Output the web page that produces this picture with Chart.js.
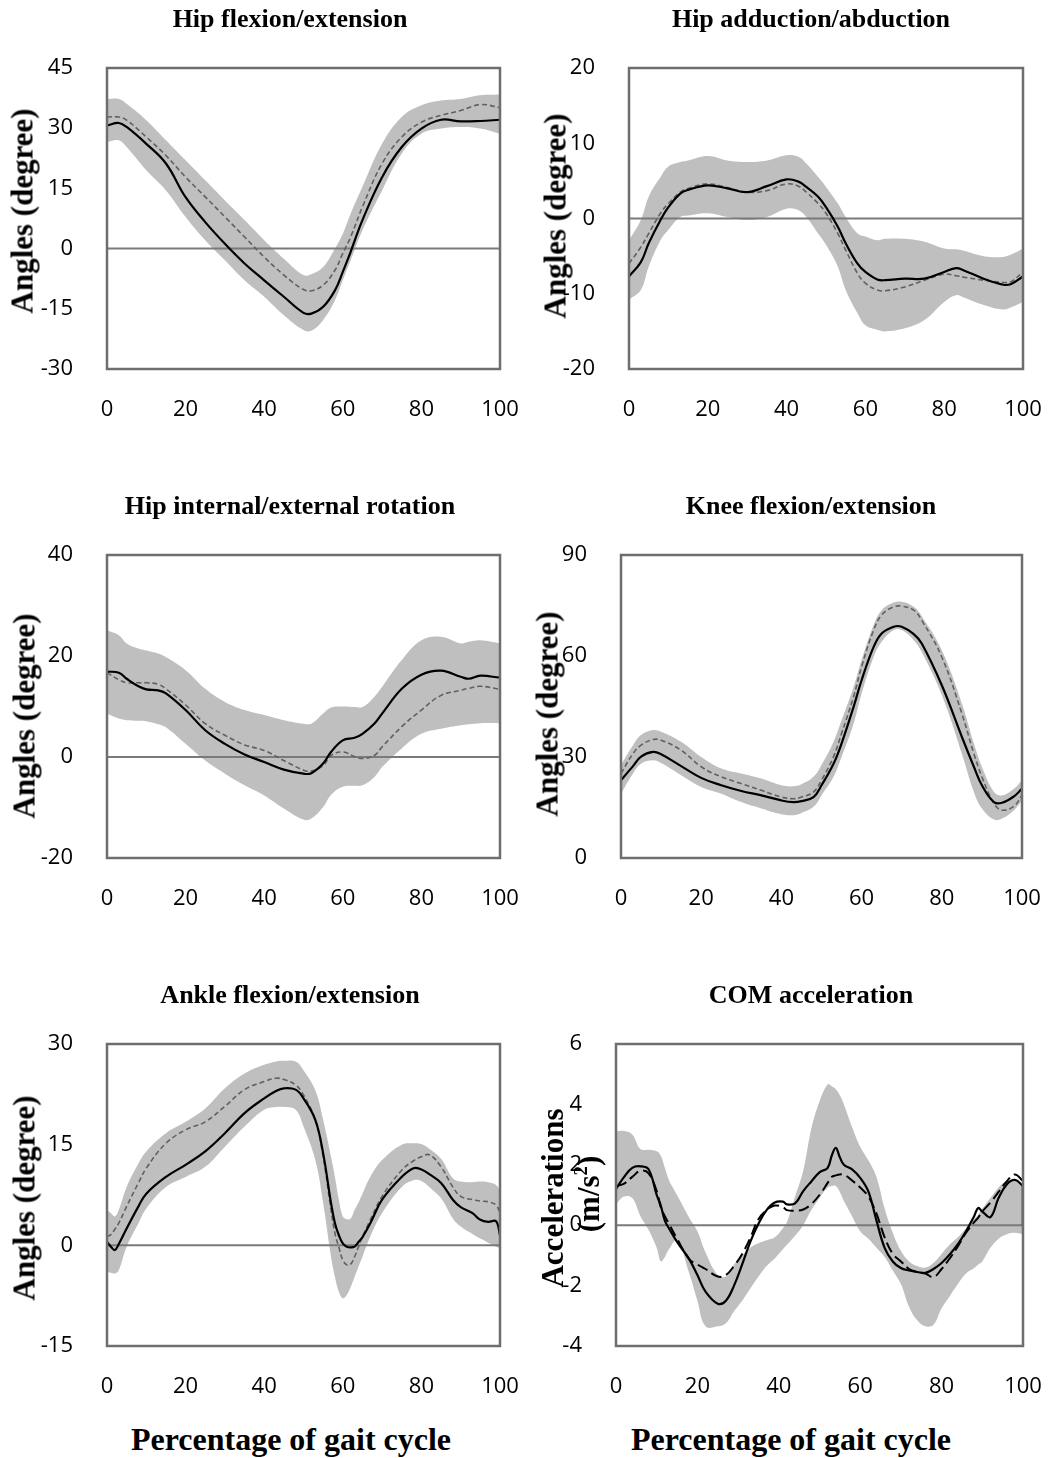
<!DOCTYPE html>
<html>
<head>
<meta charset="utf-8">
<script src="https://cdn.jsdelivr.net/npm/chart.js@4.4.1/dist/chart.umd.min.js"></script>
<style>
  body { margin: 0; background: #fff; width: 1052px; height: 1458px; position: relative; overflow: hidden; }
  canvas { position: absolute; }
  .t { position: absolute; font-family: "Liberation Serif", "Times New Roman", serif; font-weight: bold; white-space: nowrap; line-height: 1; color: #000; }
  .t sup { font-size: 0.6em; line-height: 0; }
</style>
</head>
<body>
<script>
// x axis is shared by every panel
const xTicks = [0, 20, 40, 60, 80, 100];

// Hip flexion/extension
const hipFlexTicks = [-30, -15, 0, 15, 30, 45];
const hipFlexPct  = [0, 3, 5, 10, 15, 20, 25, 30, 35, 40, 45, 50, 52, 55, 58, 60, 62, 65, 70, 75, 80, 85, 90, 95, 100];
const hipFlexMean = [30.7, 31.3, 30.3, 26.1, 21.2, 12.8, 6.6, 1.2, -3.7, -7.9, -12.0, -16.0, -16.2, -14.5, -10.4, -5.8, -0.8, 7.1, 17.8, 25.3, 29.9, 32.1, 31.7, 31.8, 32.1];
const hipFlexComp = [32.8, 32.8, 32.0, 27.8, 23.2, 17.8, 12.9, 7.9, 2.9, -2.1, -6.6, -10.2, -10.5, -9.1, -5.4, -1.2, 2.9, 10.4, 21.2, 27.8, 31.5, 33.2, 34.4, 35.9, 35.1];
const hipFlexHi   = [37.2, 37.3, 36.1, 32.0, 27.0, 22.0, 17.0, 12.0, 7.1, 2.1, -2.5, -6.6, -6.4, -4.6, 0.0, 3.7, 8.7, 15.4, 26.1, 32.8, 35.7, 36.9, 37.3, 38.2, 38.4];
const hipFlexLo   = [26.6, 27.0, 25.3, 19.5, 14.5, 7.9, 2.1, -2.9, -7.9, -12.0, -16.6, -20.3, -20.5, -17.8, -12.9, -7.9, -2.9, 4.6, 14.5, 23.7, 28.6, 29.9, 30.3, 29.9, 28.6];

// Hip adduction/abduction
const hipAddTicks = [-20, -10, 0, 10, 20];
const hipAddPct  = [0, 3, 5, 8, 10, 13, 15, 20, 25, 30, 35, 40, 43, 45, 48, 50, 53, 55, 58, 60, 63, 65, 70, 75, 80, 83, 85, 90, 95, 97, 100];
const hipAddMean = [-7.7, -5.8, -3.3, -0.2, 1.5, 3.3, 3.8, 4.4, 4.0, 3.5, 4.3, 5.2, 4.9, 4.2, 2.9, 1.5, -1.1, -3.3, -6.0, -7.1, -8.1, -8.2, -8.0, -8.0, -7.1, -6.6, -6.9, -8.0, -8.8, -8.7, -7.7];
const hipAddComp = [-6.0, -3.8, -2.0, 0.7, 2.0, 3.5, 4.0, 4.6, 4.1, 3.5, 3.7, 4.6, 4.3, 3.5, 2.0, 0.7, -2.0, -4.2, -7.3, -8.6, -9.5, -9.6, -9.1, -8.2, -7.4, -7.6, -7.8, -8.2, -8.5, -8.4, -7.1];
const hipAddHi   = [-2.9, -0.2, 2.9, 5.5, 6.9, 7.5, 7.7, 8.3, 7.7, 7.5, 7.7, 8.4, 8.2, 7.3, 5.5, 4.2, 2.0, 0.2, -2.0, -2.4, -2.9, -2.7, -2.7, -3.1, -4.0, -4.1, -4.3, -5.0, -5.1, -4.8, -4.0];
const hipAddLo   = [-10.8, -9.5, -6.4, -2.9, -1.5, 0.2, 0.4, 0.7, 0.2, -0.2, 0.2, 1.3, 1.1, 0.2, -2.0, -3.5, -6.4, -9.5, -12.6, -14.2, -14.8, -15.0, -14.6, -13.5, -11.1, -10.2, -10.5, -11.5, -12.1, -11.8, -11.1];

// Hip internal/external rotation
const hipRotTicks = [-20, 0, 20, 40];
const hipRotPct  = [0, 3, 5, 8, 10, 13, 15, 20, 25, 30, 35, 40, 45, 50, 52, 55, 57, 60, 63, 65, 68, 70, 75, 80, 85, 90, 92, 95, 100];
const hipRotMean = [16.9, 16.7, 15.5, 14.0, 13.4, 13.2, 12.6, 9.3, 5.3, 2.6, 0.5, -1.0, -2.5, -3.3, -3.2, -1.3, 1.0, 3.3, 3.8, 4.6, 6.6, 8.6, 13.5, 16.3, 17.1, 15.9, 15.5, 16.1, 15.7];
const hipRotComp = [16.7, 15.3, 14.7, 14.7, 14.7, 14.4, 13.5, 10.3, 6.6, 4.3, 2.4, 1.3, -0.7, -2.6, -2.8, -1.7, 0.3, 1.0, 0.1, -0.3, 0.3, 2.0, 6.0, 9.3, 12.2, 13.2, 13.6, 14.0, 13.4];
const hipRotHi   = [25.1, 24.1, 22.5, 21.5, 21.1, 20.5, 19.8, 17.2, 13.5, 10.9, 9.3, 8.3, 7.3, 6.6, 6.6, 8.6, 9.8, 10.0, 9.9, 9.9, 11.9, 13.9, 19.2, 23.1, 23.8, 22.5, 22.8, 23.1, 22.5];
const hipRotLo   = [8.6, 7.6, 7.3, 7.2, 7.1, 6.5, 5.9, 2.6, -0.7, -3.3, -5.6, -7.6, -10.2, -12.4, -12.2, -9.9, -7.5, -5.9, -5.7, -5.6, -4.0, -2.0, 1.7, 4.6, 5.6, 6.3, 6.5, 6.7, 6.7];

// Knee flexion/extension
const kneeTicks = [0, 30, 60, 90];
const kneePct  = [0, 3, 5, 8, 10, 15, 20, 25, 30, 35, 40, 43, 45, 48, 50, 53, 55, 58, 60, 63, 65, 68, 70, 73, 75, 80, 85, 88, 90, 93, 95, 98, 100];
const kneeMean = [23.1, 27.3, 30.1, 31.5, 30.8, 27.3, 23.8, 21.6, 19.9, 18.6, 17.1, 16.6, 16.9, 18.1, 21.6, 28.0, 34.0, 44.9, 52.8, 62.7, 66.7, 68.7, 68.7, 66.5, 63.7, 51.3, 36.0, 27.1, 21.6, 16.6, 16.4, 18.3, 20.6];
const kneeComp = [25.1, 31.0, 33.5, 35.2, 35.0, 32.0, 27.1, 24.1, 22.1, 20.1, 18.1, 17.6, 18.1, 19.6, 23.1, 30.1, 37.0, 47.9, 56.8, 67.7, 72.2, 74.6, 74.8, 73.6, 70.6, 59.7, 42.9, 31.0, 24.1, 16.2, 14.2, 15.4, 18.6];
const kneeHi   = [27.6, 33.5, 36.5, 38.0, 37.5, 34.5, 30.0, 26.6, 25.1, 23.6, 21.6, 21.3, 21.9, 24.1, 27.6, 34.5, 40.9, 50.8, 58.8, 69.2, 73.6, 75.9, 76.1, 74.6, 71.8, 61.7, 45.9, 34.0, 27.1, 19.6, 18.6, 20.6, 23.1];
const kneeLo   = [19.1, 25.1, 28.0, 29.0, 28.2, 24.6, 21.1, 19.1, 16.6, 14.7, 13.0, 12.7, 13.4, 15.2, 18.6, 24.1, 30.0, 39.9, 48.8, 59.7, 64.2, 67.7, 67.7, 64.7, 61.2, 48.4, 31.0, 19.6, 14.7, 11.4, 11.7, 14.2, 17.1];

// Ankle flexion/extension
const ankleTicks = [-15, 0, 15, 30];
const anklePct  = [0, 1, 2, 3, 5, 8, 10, 15, 20, 25, 30, 35, 40, 43, 45, 48, 50, 53, 55, 57, 58, 59, 60, 61, 62, 63, 64, 65, 67, 70, 75, 78, 80, 82, 85, 88, 90, 93, 95, 97, 99, 100];
const ankleMean = [0.5, -0.2, -0.7, 0.2, 2.5, 5.8, 7.7, 10.2, 12.0, 14.0, 16.7, 19.7, 21.9, 23.0, 23.4, 23.2, 21.9, 18.7, 13.7, 6.3, 3.3, 1.5, 0.3, -0.2, -0.3, -0.2, 0.5, 1.2, 3.3, 6.8, 10.2, 11.5, 11.3, 10.6, 9.3, 6.8, 5.7, 4.8, 3.8, 3.5, 3.6, 1.5];
const ankleComp = [1.3, 1.6, 2.4, 3.3, 5.8, 9.3, 11.5, 15.2, 17.2, 18.4, 20.7, 23.2, 24.4, 24.9, 24.7, 23.9, 22.4, 18.7, 13.2, 5.3, 1.8, -0.3, -2.2, -2.9, -2.8, -1.7, -0.2, 1.3, 3.8, 7.3, 11.2, 12.6, 13.2, 13.5, 11.7, 8.7, 7.3, 6.8, 6.6, 6.5, 6.0, 4.8];
const ankleHi   = [5.3, 4.8, 4.3, 5.3, 8.7, 12.2, 14.0, 16.7, 18.4, 20.4, 23.4, 25.6, 26.9, 27.4, 27.5, 27.4, 26.1, 23.1, 18.7, 13.2, 10.2, 6.8, 4.3, 3.9, 4.0, 5.3, 6.4, 7.7, 10.2, 12.7, 15.0, 15.2, 15.1, 14.4, 12.9, 10.0, 9.5, 9.4, 9.5, 9.4, 9.0, 8.2];
const ankleLo   = [-3.9, -4.1, -4.2, -3.7, -0.2, 3.3, 5.5, 8.7, 10.2, 11.7, 14.7, 17.7, 20.2, 20.6, 20.6, 20.2, 17.7, 12.7, 6.3, -1.7, -4.7, -6.9, -7.9, -7.4, -6.2, -4.7, -3.2, -1.7, 1.3, 4.8, 8.7, 9.7, 9.6, 8.7, 7.0, 4.0, 2.8, 1.7, 1.0, 0.4, -0.2, -0.4];

// COM acceleration
const comTicks = [-4, -2, 0, 2, 4, 6];
const comPct  = [0, 2, 4, 6, 8, 10, 11, 12, 13, 15, 18, 20, 22, 25, 27, 29, 31, 33, 35, 37, 39, 41, 42, 44, 46, 48, 50, 52, 53, 54, 55, 56, 58, 60, 62, 64, 66, 68, 70, 72, 74, 76, 78, 80, 82, 84, 86, 88, 89, 90, 92, 94, 96, 98, 100];
const comMean = [1.2, 1.6, 1.9, 1.95, 1.85, 1.0, 0.65, 0.15, -0.1, -0.55, -1.13, -1.65, -2.2, -2.6, -2.5, -2.0, -1.3, -0.55, 0.05, 0.5, 0.75, 0.78, 0.69, 0.72, 1.13, 1.45, 1.75, 1.9, 2.3, 2.56, 2.25, 2.0, 1.85, 1.57, 1.12, 0.15, -0.75, -1.2, -1.42, -1.5, -1.55, -1.58, -1.45, -1.25, -0.97, -0.63, -0.2, 0.3, 0.57, 0.45, 0.27, 0.9, 1.35, 1.5, 1.3];
const comComp = [1.29, 1.38, 1.6, 1.8, 1.72, 1.13, 0.6, 0.3, 0.05, -0.45, -1.12, -1.3, -1.45, -1.7, -1.65, -1.35, -0.95, -0.42, 0.2, 0.5, 0.65, 0.6, 0.5, 0.48, 0.52, 0.7, 1.0, 1.4, 1.6, 1.65, 1.68, 1.68, 1.48, 1.25, 0.95, 0.38, -0.4, -0.95, -1.2, -1.45, -1.55, -1.6, -1.72, -1.45, -1.1, -0.7, -0.25, 0.1, 0.25, 0.45, 0.75, 1.1, 1.45, 1.68, 1.46];
const comHi   = [3.1, 3.12, 3.0, 2.52, 2.5, 2.45, 2.3, 1.9, 1.5, 1.0, 0.25, -0.2, -0.9, -1.65, -1.7, -1.3, -1.0, -0.75, -0.6, -0.5, -0.4, -0.1, 0.1, 0.95, 1.8, 3.2, 4.1, 4.66, 4.6, 4.5, 4.3, 4.0, 3.25, 2.6, 2.15, 1.6, 0.55, -0.25, -0.85, -1.2, -1.35, -1.4, -1.25, -0.95, -0.64, -0.4, -0.1, 0.2, 0.35, 0.55, 0.9, 1.25, 1.46, 1.46, 1.24];
const comLo   = [0.7, 0.95, 0.9, 0.3, -0.15, -0.75, -1.2, -1.05, -0.8, -0.5, -1.6, -2.5, -3.35, -3.35, -3.25, -2.85, -2.5, -2.1, -1.7, -1.35, -1.1, -0.8, -0.65, -0.35, 0.0, 0.5, 0.9, 1.25, 1.3, 1.3, 1.1, 0.8, 0.3, -0.2, -0.45, -0.75, -1.05, -1.5, -1.95, -2.7, -3.15, -3.35, -3.3, -2.75, -2.35, -1.95, -1.6, -1.42, -1.3, -1.2, -0.75, -0.45, -0.3, -0.25, -0.3];

// plot boxes are [left, top, right, bottom] in page pixels
const panels = [
  { title: 'Hip flexion/extension', pct: hipFlexPct, mean: hipFlexMean, comp: hipFlexComp, hi: hipFlexHi, lo: hipFlexLo, ticks: hipFlexTicks,
    col: 0, box: [107, 68, 500, 369], yTitle: [['Angles (degree)', 25, 211]] },
  { title: 'Hip adduction/abduction', pct: hipAddPct, mean: hipAddMean, comp: hipAddComp, hi: hipAddHi, lo: hipAddLo, ticks: hipAddTicks,
    col: 1, box: [629, 68, 1023, 369], yTitle: [['Angles (degree)', 558, 216]] },
  { title: 'Hip internal/external rotation', pct: hipRotPct, mean: hipRotMean, comp: hipRotComp, hi: hipRotHi, lo: hipRotLo, ticks: hipRotTicks,
    col: 0, box: [107, 555, 500, 858], yTitle: [['Angles (degree)', 27, 716]] },
  { title: 'Knee flexion/extension', pct: kneePct, mean: kneeMean, comp: kneeComp, hi: kneeHi, lo: kneeLo, ticks: kneeTicks,
    col: 1, box: [621, 555, 1022, 858], yTitle: [['Angles (degree)', 550, 714]] },
  { title: 'Ankle flexion/extension', pct: anklePct, mean: ankleMean, comp: ankleComp, hi: ankleHi, lo: ankleLo, ticks: ankleTicks,
    col: 0, box: [107, 1044, 500, 1346], yTitle: [['Angles (degree)', 27, 1198]], xTitle: true },
  { title: 'COM acceleration', pct: comPct, mean: comMean, comp: comComp, hi: comHi, lo: comLo, ticks: comTicks,
    col: 1, box: [616, 1044, 1023, 1346], yTitle: [['Accelerations', 555, 1198], ['(m/s<sup>2</sup>)', 591, 1194]], xTitle: true, com: true }
];

Chart.defaults.font.family = '"Open Sans", sans-serif';
Chart.defaults.color = '#000';

// closed frame around the plot area
const frame = {
  id: 'frame',
  afterDatasetsDraw(chart) {
    const { ctx, chartArea: a } = chart;
    ctx.save();
    ctx.strokeStyle = '#6e6e6e';
    ctx.lineWidth = 2.5;
    ctx.strokeRect(a.left, a.top, a.right - a.left, a.bottom - a.top);
    ctx.restore();
  }
};

function pts(xs, ys) {
  return xs.map((x, i) => ({ x: x, y: ys[i] }));
}

function addText(html, x, y, size, rotated) {
  const d = document.createElement('div');
  d.className = 't';
  d.innerHTML = html;
  d.style.fontSize = size + 'px';
  d.style.left = x + 'px';
  if (rotated) {
    d.style.top = y + 'px';
    d.style.transform = 'translate(-50%, -50%) rotate(-90deg)';
  } else {
    d.style.top = (y - 0.84 * size) + 'px';   // y is the baseline
    d.style.transform = 'translateX(-50%)';
  }
  document.body.appendChild(d);
}

// room around the plot for the outer tick labels, so chart.js keeps the box where it is put
const PAD = 50;

panels.forEach(p => {
  const [L, T, R, B] = p.box;
  const cLeft = p.col === 0 ? 0 : 526;
  const cTop = T - PAD;
  const cW = R + PAD - cLeft;
  const cH = (B - T) + PAD + 60;

  const cv = document.createElement('canvas');
  cv.width = cW;
  cv.height = cH;
  cv.style.left = cLeft + 'px';
  cv.style.top = cTop + 'px';
  document.body.appendChild(cv);

  const last = p.mean[p.mean.length - 1];
  const xEnd = xTicks[xTicks.length - 1];

  new Chart(cv, {
    type: 'line',
    data: {
      datasets: [
        { data: pts(p.pct, p.mean), borderColor: '#000', borderWidth: 2.2, order: 1 },
        { data: pts(p.pct, p.comp),
          borderColor: p.com ? '#000' : '#606060',
          borderWidth: p.com ? 2 : 1.6,
          borderDash: p.com ? [11, 5] : [5, 3], order: 2 },
        // drop from the last mean value back to zero at the right edge
        { data: [{ x: xEnd, y: last }, { x: xEnd, y: 0 }], tension: 0,
          borderColor: p.com ? '#000' : '#333', borderWidth: p.com ? 2.5 : 1.4,
          borderDash: p.com ? [] : [2, 2], order: 3 },
        { data: [{ x: xTicks[0], y: 0 }, { x: xEnd, y: 0 }], tension: 0,
          borderColor: '#7a7a7a', borderWidth: 2, order: 4 },
        { data: pts(p.pct, p.lo), borderWidth: 0, borderColor: 'rgba(0,0,0,0)', order: 6 },
        { data: pts(p.pct, p.hi), borderWidth: 0, borderColor: 'rgba(0,0,0,0)',
          backgroundColor: '#bfbfbf', fill: '-1', order: 5 }
      ]
    },
    options: {
      responsive: false,
      animation: false,
      devicePixelRatio: 1,
      layout: { padding: { top: PAD, right: PAD, bottom: 0, left: 0 } },
      elements: { point: { radius: 0 }, line: { tension: 0.4 } },
      plugins: { legend: { display: false }, tooltip: { enabled: false } },
      scales: {
        x: {
          type: 'linear',
          min: xTicks[0], max: xEnd,
          afterFit: s => { s.height = 60; },
          grid: { display: false },
          border: { display: false },
          ticks: { stepSize: xTicks[1] - xTicks[0], padding: 20, font: { size: 22 }, maxRotation: 0 }
        },
        y: {
          min: p.ticks[0], max: p.ticks[p.ticks.length - 1],
          afterFit: s => { s.width = L - cLeft; },
          grid: { display: false },
          border: { display: false },
          ticks: { stepSize: p.ticks[1] - p.ticks[0], padding: 26, font: { size: 22 } }
        }
      }
    },
    plugins: [frame]
  });

  // panel title and axis titles
  addText(p.title, p.col === 0 ? 290 : 811, T - 40, 26, false);
  p.yTitle.forEach(([txt, x, y]) => addText(txt, x - 3, y, 31, true));
  if (p.xTitle) addText('Percentage of gait cycle', p.col === 0 ? 291 : 791, 1450, 32, false);
});
</script>
</body>
</html>
